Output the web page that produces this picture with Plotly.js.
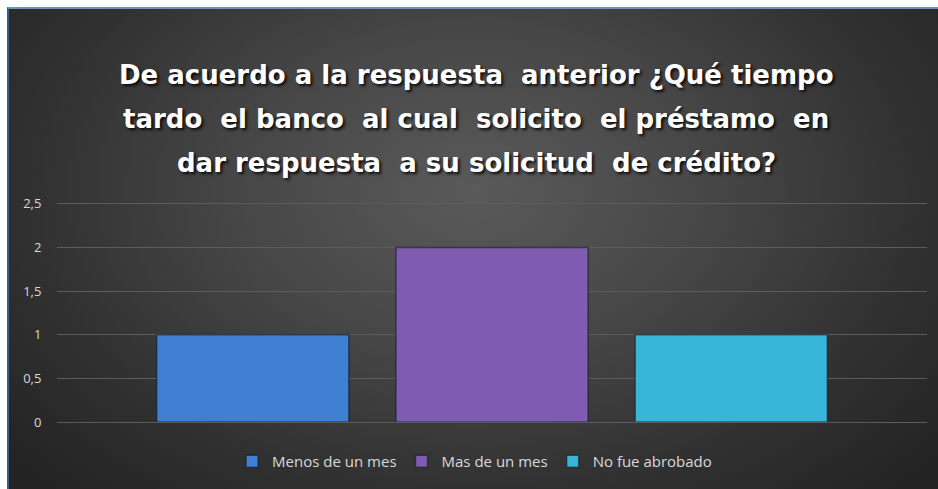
<!DOCTYPE html>
<html>
<head>
<meta charset="utf-8">
<script src="https://cdn.plot.ly/plotly-3.0.1.min.js"></script>
<style>
  html, body { margin: 0; padding: 0; background: #ffffff; }
  #frame {
    position: absolute; left: 7px; top: 7px; width: 931px; height: 482px;
    box-sizing: border-box;
    border-top: 2px solid #6f93b6; border-left: 2px solid #3d5f82;
    background: radial-gradient(ellipse 65% 85% at 50% 38%, #5a5a5a 0%, #464646 40%, #303030 75%, #242424 100%);
  }
  #chart { position: absolute; left: 0; top: 0; width: 938px; height: 489px; }
</style>
</head>
<body>
<div id="frame"></div>
<div id="chart"></div>
<script>
// Data
var category = ['Respuesta'];
var seriesNames = ['Menos de un mes', 'Mas de un mes', 'No fue abrobado'];
var seriesValues = [[1], [2], [1]];
var seriesColors = ['#3f80d2', '#7e5cb0', '#38b6d9'];
var titleLines = [
  'De acuerdo a la respuesta  anterior ¿Qué tiempo',
  'tardo  el banco  al cual  solicito  el préstamo  en',
  'dar respuesta  a su solicitud  de crédito?'
];
var yTicks = [0, 0.5, 1, 1.5, 2, 2.5];

var traces = seriesNames.map(function (name, i) {
  return {
    type: 'bar',
    name: name,
    x: category,
    y: seriesValues[i],
    marker: { color: seriesColors[i], line: { color: 'rgba(20,20,30,0.55)', width: 1.5 } },
    hoverinfo: 'name+y'
  };
});

// plot area: y=0 at 422px, range top slightly above 2.5 so its gridline is drawn
var plotTop = 202, plotBottom = 422, H = plotBottom - plotTop;
var titleCenters = [75, 119, 163];
var annotations = titleLines.map(function (t, i) {
  return {
    text: t, xref: 'paper', yref: 'paper', x: 0.482, y: (plotBottom - titleCenters[i]) / H,
    xanchor: 'center', yanchor: 'middle', showarrow: false,
    font: { family: 'DejaVu Sans', size: 26, color: '#ffffff', weight: 'bold',
            shadow: '2px 2px 3px rgba(0,0,0,0.85)' }
  };
});

var layout = {
  width: 938, height: 489,
  paper_bgcolor: 'rgba(0,0,0,0)', plot_bgcolor: 'rgba(0,0,0,0)',
  margin: { l: 57, r: 11, t: plotTop, b: 489 - plotBottom, pad: 0 },
  separators: ',.',
  barmode: 'group', bargap: 0.175, bargroupgap: 0.197,
  showlegend: true,
  legend: {
    orientation: 'h', x: 0.48, xanchor: 'center', y: -0.105, yanchor: 'top',
    font: { family: 'Open Sans', size: 15, color: '#d9d9d9' },
    bgcolor: 'rgba(0,0,0,0)', itemwidth: 30, tracegroupgap: 0
  },
  xaxis: { showticklabels: false, showgrid: false, zeroline: false, showline: false, ticks: '' },
  yaxis: {
    range: [0, 2.52], tickvals: yTicks, showgrid: true, gridcolor: '#5c5c5c', gridwidth: 1,
    zeroline: true, zerolinecolor: '#5c5c5c', zerolinewidth: 1, showline: false,
    ticks: 'outside', ticklen: 12, tickcolor: 'rgba(0,0,0,0)',
    tickfont: { family: 'Open Sans', size: 13, color: '#d9d9d9' }
  },
  annotations: annotations
};

Plotly.newPlot('chart', traces, layout, { displayModeBar: false, staticPlot: true });
</script>
</body>
</html>
